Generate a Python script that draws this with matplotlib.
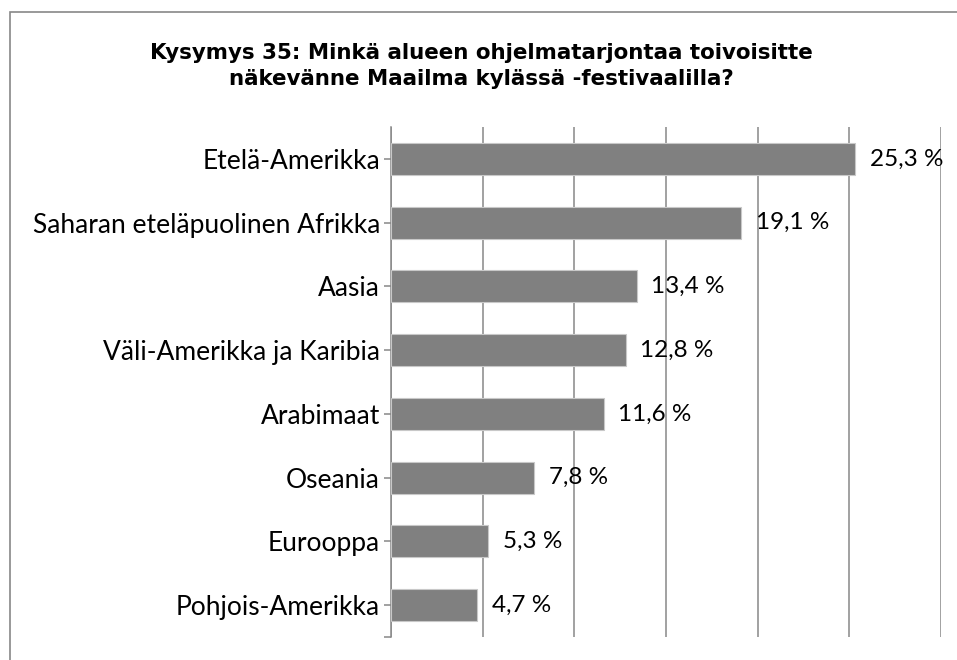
import numpy as np
import matplotlib.pyplot as plt
from matplotlib.patches import Rectangle

# Chart data
regions = ['Etelä-Amerikka', 'Saharan eteläpuolinen Afrikka', 'Aasia',
           'Väli-Amerikka ja Karibia', 'Arabimaat', 'Oseania', 'Eurooppa',
           'Pohjois-Amerikka']
shares = [25.3, 19.1, 13.4, 12.8, 11.6, 7.8, 5.3, 4.7]
x_ticks = [0, 5, 10, 15, 20, 25, 30]

title = ('Kysymys 35: Minkä alueen ohjelmatarjontaa toivoisitte\n'
         'näkevänne Maailma kylässä -festivaalilla?')

fig = plt.figure(figsize=(9.57, 6.6), dpi=100)
ax = fig.add_axes([391 / 957, 23 / 660, 550 / 957, 510 / 660])

y_pos = np.arange(len(regions))
ax.barh(y_pos, shares, height=0.5, color='#808080', edgecolor='#c8c8c8',
        linewidth=0.8, zorder=3)

for y, v in zip(y_pos, shares):
    ax.text(v + 0.8, y, f'{v:.1f} %'.replace('.', ','), va='center',
            ha='left', fontsize=17.5, family='Lato', color='black', zorder=4)

ax.set_xlim(0, 30)
ax.set_ylim(len(regions) - 0.5, -0.5)
ax.set_xticks(x_ticks)
ax.xaxis.grid(True, color='#888888', linewidth=1.1, zorder=0)
ax.tick_params(axis='x', length=0, labelbottom=False)

ax.set_yticks(y_pos)
ax.set_yticklabels(regions, fontsize=19, family='Lato')
ax.set_yticks([len(regions) - 0.5], minor=True)
ax.tick_params(axis='y', which='both', length=5, width=1.1, color='#888888',
               pad=3)

for s in ['top', 'right', 'bottom']:
    ax.spines[s].set_visible(False)
ax.spines['left'].set_color('#888888')
ax.spines['left'].set_linewidth(1.1)

fig.text(0.503, 1 - 66 / 660, title, ha='center', va='center', fontsize=15.4,
         fontweight='bold', family='DejaVu Sans', linespacing=1.35)

# outer chart frame (only top and left edges fall inside the picture)
fig.patches.append(Rectangle((10 / 957, -0.2), 1.2, 1.2 - 12 / 660,
                             transform=fig.transFigure, fill=False,
                             edgecolor='#888888', linewidth=1.2))

fig.savefig('out.png', dpi=100)
